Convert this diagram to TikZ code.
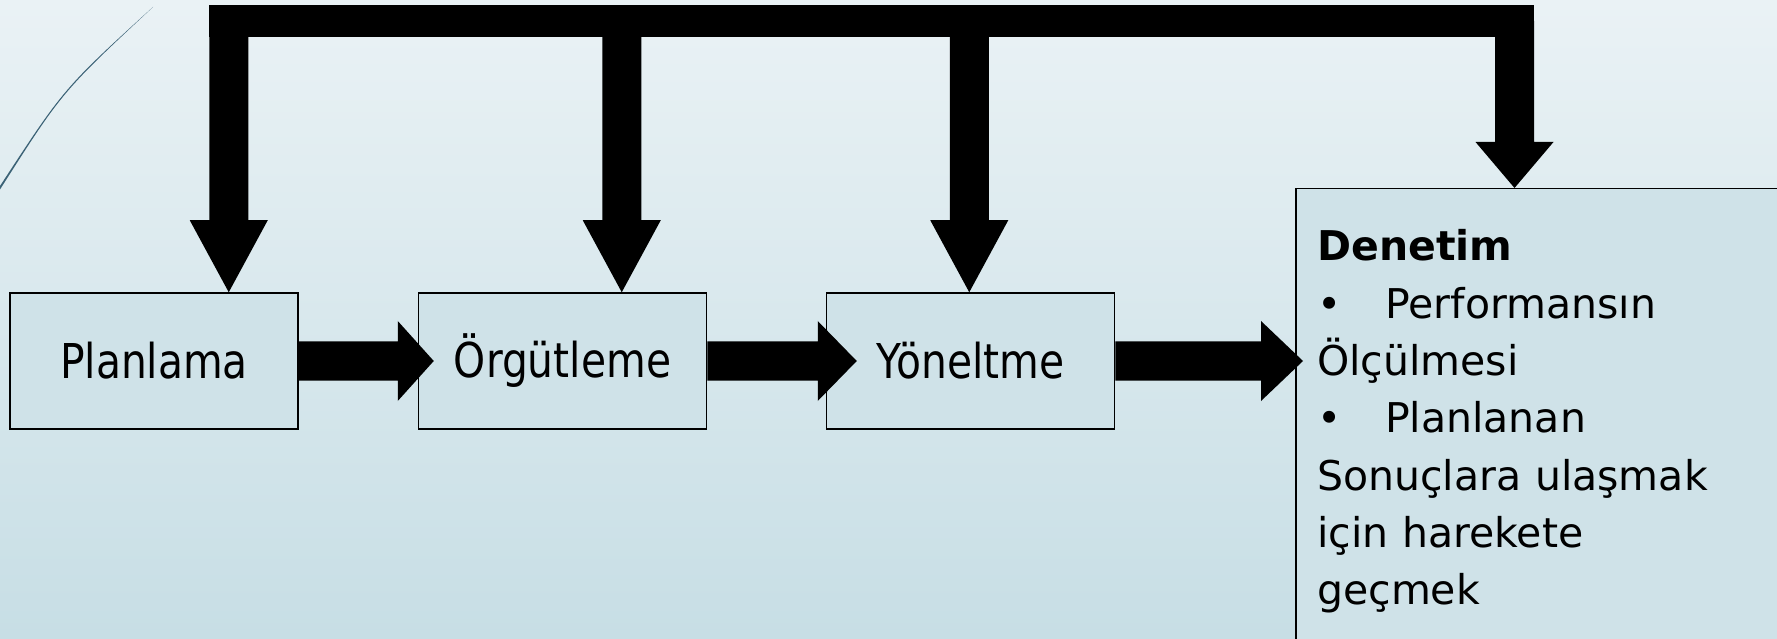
\documentclass[tikz,border=0pt]{standalone}
\usepackage{fontspec}
\setmainfont{DejaVu Sans}
\newfontfamily\labelfont{DejaVu Sans}[FakeStretch=0.85]
\usetikzlibrary{calc}
\definecolor{bgtop}{RGB}{234,242,245}
\definecolor{bgbottom}{RGB}{199,222,229}
\definecolor{boxfill}{RGB}{207,226,232}
\definecolor{swooshcol}{RGB}{59,98,118}
\tikzset{stage/.style={draw=black, line width=1.5pt, fill=boxfill, minimum width=288pt, minimum height=136pt, inner sep=0pt, font=\labelfont\fontsize{48}{58}\selectfont}}
\newcommand{\rightblock}[3]{\fill let \p1=(#1), \p2=(#2) in (\x1,\y1+19.5) -- (\x2-#3,\y1+19.5) -- (\x2-#3,\y1+40) -- (\x2,\y1) -- (\x2-#3,\y1-40) -- (\x2-#3,\y1-19.5) -- (\x1,\y1-19.5) -- cycle;}
\newcommand{\downblock}[2]{\fill let \p1=(#1) in (\x1-19.5,617) -- (\x1+19.5,617) -- (\x1+19.5,\y1+#2) -- (\x1+39,\y1+#2) -- (\x1,\y1) -- (\x1-39,\y1+#2) -- (\x1-19.5,\y1+#2) -- cycle;}

\begin{document}
\begin{tikzpicture}[x=1pt, y=1pt]

					\useasboundingbox (0,0) rectangle (1777,638);
					\clip (0,0) rectangle (1777,638);
					\shade[top color=bgtop, bottom color=bgbottom] (0,0) rectangle (1777,638);

					\fill[swooshcol] (0,448.5) .. controls (62,546) .. (153,631) .. controls (64,550) .. (0,452) -- cycle;

					\node[stage] (plan) at (154,277) {Planlama};
					\node[stage] (org) at (562.5,277) {Örgütleme};
					\node[stage] (yon) at (970.5,277) {Yöneltme};
					\node[draw=black, line width=1.5pt, fill=boxfill, minimum width=540pt, minimum height=500pt, anchor=north west, inner sep=0pt] (den) at (1295,450) {};
					\node[anchor=base west, inner sep=0pt, text width=460pt, align=left, font=\fontsize{41}{57.3}\selectfont] (dentext) at ($(den.north west)+(22,-73)$) {\textbf{Denetim}\\
						\makebox[68pt][l]{•}Performansın\\
						Ölçülmesi\\
						\makebox[68pt][l]{•}Planlanan\\
						Sonuçlara ulaşmak\\
						için harekete\\
						geçmek};

					\coordinate (tp) at ($(plan.north west)+(219.5,0)$);
					\coordinate (to) at ($(org.north west)+(204,0)$);
					\coordinate (ty) at ($(yon.north west)+(143.5,0)$);
					\coordinate (td) at ($(den.north west)+(219.5,0)$);

					\fill let \p1=(tp), \p2=(td) in (\x1-19.5,601) rectangle (\x2+19.5,633);
					\downblock{tp}{72}
					\downblock{to}{72}
					\downblock{ty}{72}
					\downblock{td}{46}

					\rightblock{plan.east}{$(org.west)+(16,0)$}{36}
					\rightblock{org.east}{$(yon.west)+(31,0)$}{39}
					\rightblock{yon.east}{$(den.west |- yon.east)+(8,0)$}{42}

\end{tikzpicture}
\end{document}
